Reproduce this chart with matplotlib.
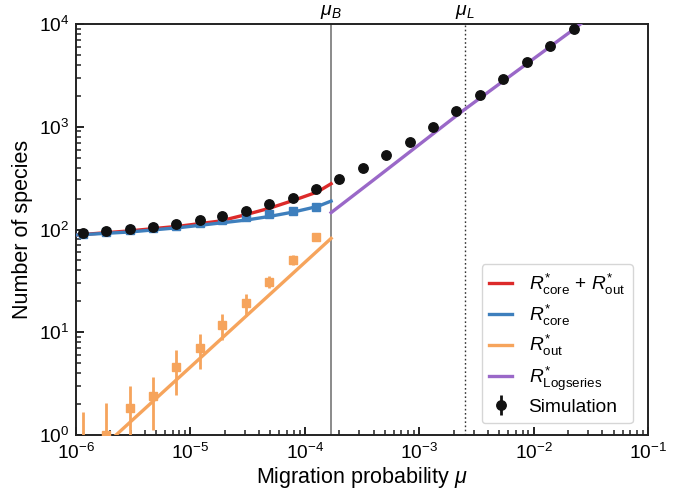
import numpy as np
import matplotlib
matplotlib.use("Agg")
import matplotlib.pyplot as plt

plt.rcParams['font.family'] = ['Liberation Sans', 'DejaVu Sans']
plt.rcParams['mathtext.fontset'] = 'custom'
plt.rcParams['mathtext.rm'] = 'Liberation Sans'
plt.rcParams['mathtext.it'] = 'Liberation Sans:italic'
plt.rcParams['mathtext.bf'] = 'Liberation Sans:bold'

# --- data ---
mu_B = 1.7e-4
mu_L = 2.5e-3

# simulation: migration probabilities (log10) and total species
sim_logmu = [-5.94, -5.74, -5.53, -5.33, -5.13, -4.92, -4.72, -4.51, -4.31, -4.10,
             -3.90, -3.70, -3.49, -3.29, -3.08, -2.88, -2.68, -2.47, -2.27, -2.06,
             -1.86, -1.65]
sim_total = [91.8, 96, 100.4, 105.7, 113, 124, 136, 152, 176, 204,
             248, 310, 399, 531, 716, 995, 1413, 2024, 2917, 4238,
             6150, 8880]
sim_total_err = [1.5, 1.5, 1.5, 1.6, 1.7, 1.9, 2.1, 2.4, 2.8, 3.2,
                 3.9, 4.8, 6, 8, 10, 14, 19, 27, 38, 55, 80, 115]

# simulation: core species (first 11 points)
core_sim = [90, 94.5, 98.5, 103, 108.5, 115, 124, 131, 142, 152, 164]
core_err = [1.2, 1.2, 1.3, 1.3, 1.4, 1.5, 1.6, 1.7, 1.8, 2.0, 2.1]

# simulation: outsider species (first 11 points)
out_sim = [0.45, 1.0, 1.82, 2.41, 4.62, 6.98, 11.7, 19.1, 31, 50.5, 84]
out_err = [1.22, 1.06, 1.2, 1.28, 2.15, 2.6, 3.3, 4.6, 4.3, 5.8, 3.0]

# theory curves
theo_logmu = [-6.0, -5.53, -5.09, -4.74, -4.51, -4.31, -4.10, -3.89, -3.77]
theo_total = [88.4, 97, 108, 121, 140, 161, 192, 232, 279]
theo_core = [88.4, 94.6, 104.5, 115.7, 123.7, 134, 148, 167.5, 189]

out_logmu = [-6.0, -3.77]
out_theo = [0.44, 82]

logser_logmu = [-3.77, -3.40, -2.61, -1.65, -1.50]
logser_theo = [146, 303, 1455, 8870, 1.2e4]

red = '#dc2a2a'
blue = '#3e7fbd'
orange = '#f6a45c'
purple = '#9a68c8'

sim_mu = np.power(10.0, sim_logmu)
theo_mu = np.power(10.0, theo_logmu)
n_early = len(core_sim)

fig = plt.figure(figsize=(6.89, 4.94), dpi=100)
ax = fig.add_axes([0.1103, 0.1194, 0.8302, 0.832])

ax.plot(theo_mu, theo_total, color=red, lw=2.4,
        label=r'$R^{*}_{\mathrm{core}}$ + $R^{*}_{\mathrm{out}}$', zorder=3)
ax.plot(theo_mu, theo_core, color=blue, lw=2.4, label=r'$R^{*}_{\mathrm{core}}$', zorder=3)
ax.plot(np.power(10.0, out_logmu), out_theo, color=orange, lw=2.4, label=r'$R^{*}_{\mathrm{out}}$', zorder=3)
ax.plot(np.power(10.0, logser_logmu), logser_theo, color=purple, lw=2.4,
        label=r'$R^{*}_{\mathrm{Logseries}}$', zorder=3)

ax.errorbar(sim_mu[:n_early], out_sim, yerr=out_err, fmt='s', color=orange, ms=5.5,
            elinewidth=2, capsize=0, zorder=4)
ax.errorbar(sim_mu[:n_early], core_sim, yerr=core_err, fmt='s', color=blue, ms=5.5,
            elinewidth=2, capsize=0, zorder=4)
ax.errorbar(sim_mu, sim_total, yerr=sim_total_err, fmt='o', color='#111111', ms=6.8,
            elinewidth=2, capsize=0, zorder=5, label='Simulation')

ax.axvline(mu_B, color='#777777', lw=1.2, zorder=2)
ax.axvline(mu_L, color='#333333', lw=1.0, ls=(0, (1.2, 1.8)), zorder=2)
ax.text(mu_B, 1.008, r'$\mu_B$', transform=ax.get_xaxis_transform(), ha='center', va='bottom', fontsize=14)
ax.text(mu_L, 1.008, r'$\mu_L$', transform=ax.get_xaxis_transform(), ha='center', va='bottom', fontsize=14)

ax.set_xscale('log')
ax.set_yscale('log')
ax.set_xlim(1e-6, 1e-1)
ax.set_ylim(1, 1e4)

ax.set_xlabel(r'Migration probability $\mu$', fontsize=15.5, labelpad=1)
ax.set_ylabel('Number of species', fontsize=15.5, labelpad=4)

for s in ax.spines.values():
    s.set_linewidth(1.4)
    s.set_color('#222222')
ax.tick_params(which='both', direction='in', top=False, right=False, labelsize=13.8, color='#222222')
ax.tick_params(which='major', length=6, width=1.4)
ax.tick_params(axis='x', which='major', pad=6)
ax.tick_params(axis='y', which='major', pad=5)
ax.tick_params(which='minor', length=3.5, width=1.1)

leg = ax.legend(loc='lower right', fontsize=13.8, handlelength=1.2, frameon=True,
                fancybox=True, borderpad=0.4, labelspacing=0.3, handletextpad=0.85,
                bbox_to_anchor=(0.99, 0.005))
leg.get_frame().set_edgecolor('#cccccc')
leg.get_frame().set_linewidth(1.0)

fig.savefig('out.png', dpi=100)
